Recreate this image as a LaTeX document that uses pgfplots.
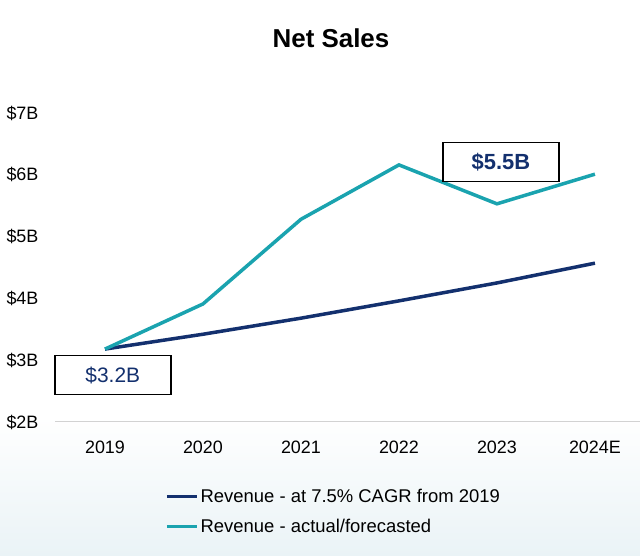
\documentclass[border=0pt]{standalone}
\usepackage{pgfplots}
\pgfplotsset{compat=1.18}
\usepackage{fontspec}
\setmainfont{Liberation Sans}
\definecolor{navy}{HTML}{13306E}
\definecolor{teal}{HTML}{1AA3AF}
\definecolor{bgb}{HTML}{EAF3F6}
\begin{document}
\begin{tikzpicture}[x=1bp,y=1bp]
\path[use as bounding box] (0,0) rectangle (640,556);
\shade[top color=white, bottom color=bgb] (0,0) rectangle (640,140);
\node[font=\bfseries\fontsize{26}{30}\selectfont] at (331,518) {Net Sales};
\begin{axis}[
  at={(55bp,134bp)}, anchor=south west,
  scale only axis, width=585bp, height=309bp,
  xmin=-0.51, xmax=5.46, ymin=2, ymax=7,
  axis line style={draw=none},
  xtick={0,1,2,3,4,5},
  xticklabels={2019,2020,2021,2022,2023,2024E},
  ytick={2,3,4,5,6,7},
  yticklabel={\$\pgfmathprintnumber{\tick}B},
  /pgf/number format/assume math mode=true,
  major tick length=0,
  tick label style={font=\fontsize{18}{21}\selectfont},
  yticklabel style={anchor=west, xshift=-52bp},
  xticklabel style={yshift=-15bp},
  clip=false,
  legend style={at={(0.188,-0.21)}, anchor=north west, draw=none, fill=none,
    font=\fontsize{18.5}{22}\selectfont, row sep=11bp, inner sep=0pt},
  legend cell align=left,
  legend image code/.code={\draw[#1, line width=3.5bp] (0,0) -- (30bp,0);},
]
\draw[gray!35, line width=1bp] (axis cs:-0.51,2) -- (axis cs:5.46,2);
\addplot[navy, line width=3.5bp] coordinates {(0,3.18) (1,3.42) (2,3.68) (3,3.96) (4,4.25) (5,4.57)};
\addlegendentry{Revenue - at 7.5\% CAGR from 2019}
\addplot[teal, line width=3.5bp] coordinates {(0,3.18) (1,3.91) (2,5.28) (3,6.16) (4,5.53) (5,6.01)};
\addlegendentry{Revenue - actual/forecasted}
\node[draw=black, line width=1.5bp, fill=white, minimum width=116bp, minimum height=39bp,
  text=navy, font=\fontsize{21}{24}\selectfont] at (axis cs:0.08,2.76) {\$3.2B};
\node[draw=black, line width=1.5bp, fill=white, minimum width=116bp, minimum height=39bp,
  text=navy, font=\bfseries\fontsize{22}{25}\selectfont] at (axis cs:4.04,6.21) {\$5.5B};
\end{axis}
\end{tikzpicture}
\end{document}
